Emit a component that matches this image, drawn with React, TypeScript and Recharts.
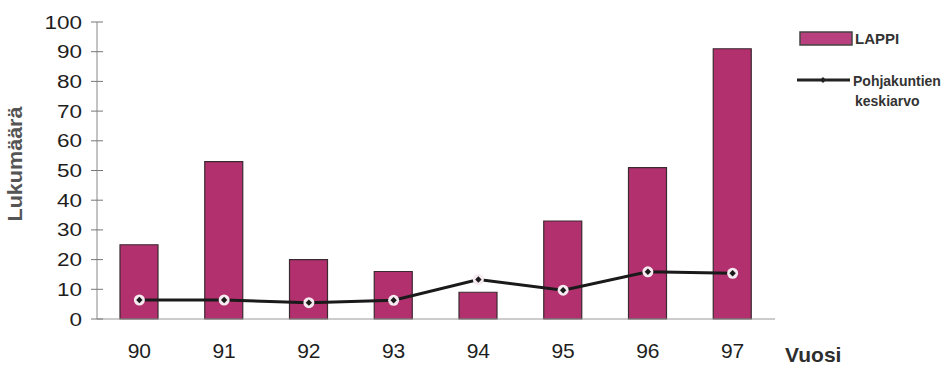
import React from 'react';
import { ComposedChart, Bar, Line, XAxis, YAxis, Legend } from 'recharts';

// Vuodet 1990–1997
const years = ['90', '91', '92', '93', '94', '95', '96', '97'];
// Lapin lukumäärät
const lappi = [25, 53, 20, 16, 9, 33, 51, 91];
// Vertailukuntien keskiarvo
const keskiarvo = [6.4, 6.4, 5.5, 6.3, 13.3, 9.7, 15.9, 15.4];
const yTicks = [0, 10, 20, 30, 40, 50, 60, 70, 80, 90, 100];

const data = years.map((year, i) => ({ year, lappi: lappi[i], keskiarvo: keskiarvo[i] }));

const BAR_FILL = '#b3306e';
const FONT = 'Arial, "Liberation Sans", sans-serif';

const YTick = (props: any) => {
  const { x, y, payload } = props;
  return (
    <g>
      <line x1={x - 6} x2={x + 6} y1={y} y2={y} stroke="#777" strokeWidth={1} />
      <text
        transform={`translate(${x - 15},${y + 6.5}) scale(1.25,1)`}
        textAnchor="end"
        fontFamily={FONT}
        fontSize={18}
        fill="#1e1e1e"
      >
        {payload.value}
      </text>
    </g>
  );
};

const XTick = (props: any) => {
  const { x, y, payload } = props;
  return (
    <text x={x} y={y + 39} textAnchor="middle" fontFamily={FONT} fontSize={21} fill="#1e1e1e">
      {payload.value}
    </text>
  );
};

const Dot = (props: any) => {
  const { cx, cy } = props;
  if (cx == null || cy == null) return null;
  return (
    <g>
      <circle cx={cx} cy={cy} r={5.5} fill="#f6eaf1" />
      <path d={`M${cx},${cy - 3.2} L${cx + 3.2},${cy} L${cx},${cy + 3.2} L${cx - 3.2},${cy} Z`} fill="#1a1a1a" />
    </g>
  );
};

const yLabel = () => (
  <text
    transform="translate(22,164) rotate(-90)"
    textAnchor="middle"
    fontFamily={FONT}
    fontSize={20}
    fontWeight="bold"
    fill="#555"
    textLength={115}
    lengthAdjust="spacingAndGlyphs"
  >
    Lukumäärä
  </text>
);

const xLabel = () => (
  <text x={785} y={362} fontFamily={FONT} fontSize={21} fontWeight="bold" fill="#2e2e2e">
    Vuosi
  </text>
);

const LegendBox = () => (
  <svg width={150} height={100} style={{ display: 'block' }}>
    <rect x={5} y={7} width={52} height={13} fill="#b9407f" stroke="#444" strokeWidth={1.5} />
    <text x={60} y={19} fontFamily={FONT} fontSize={15} fontWeight="bold" fill="#333">
      LAPPI
    </text>
    <line x1={2} x2={55} y1={55} y2={55} stroke="#222" strokeWidth={3} />
    <path d="M28,52 L31,55 L28,58 L25,55 Z" fill="#222" />
    <text x={58} y={61} fontFamily={FONT} fontSize={14} fontWeight="bold" fill="#333">
      Pohjakuntien
    </text>
    <text x={60} y={81} fontFamily={FONT} fontSize={14} fontWeight="bold" fill="#333">
      keskiarvo
    </text>
  </svg>
);

export default function App() {
  return (
    <div style={{ position: 'absolute', left: 0, top: 0, width: 943, height: 368, background: '#fff' }}>
      <ComposedChart
        width={943}
        height={368}
        data={data}
        margin={{ top: 22, right: 168, bottom: 0, left: 0 }}
      >
        <XAxis
          dataKey="year"
          height={49}
          tickLine={false}
          tickSize={0}
          tickMargin={0}
          axisLine={{ stroke: '#999', strokeWidth: 1 }}
          tick={<XTick />}
          label={xLabel}
          interval={0}
        />
        <YAxis
          width={97}
          domain={[0, 100]}
          ticks={yTicks}
          tickLine={false}
          tickSize={0}
          tickMargin={0}
          axisLine={{ stroke: '#888', strokeWidth: 1 }}
          tick={<YTick />}
          label={yLabel}
          interval={0}
        />
        <Legend
          layout="vertical"
          align="center"
          verticalAlign="middle"
          content={<LegendBox />}
          wrapperStyle={{ left: 795, top: 25, width: 150, height: 100 }}
        />
        <Bar
          dataKey="lappi"
          name="LAPPI"
          fill={BAR_FILL}
          stroke="#3a2a30"
          strokeWidth={1.2}
          barSize={38}
          isAnimationActive={false}
        />
        <Line
          dataKey="keskiarvo"
          name="Pohjakuntien keskiarvo"
          type="linear"
          stroke="#1a1a1a"
          strokeWidth={3}
          dot={<Dot />}
          activeDot={false}
          isAnimationActive={false}
        />
      </ComposedChart>
    </div>
  );
}
